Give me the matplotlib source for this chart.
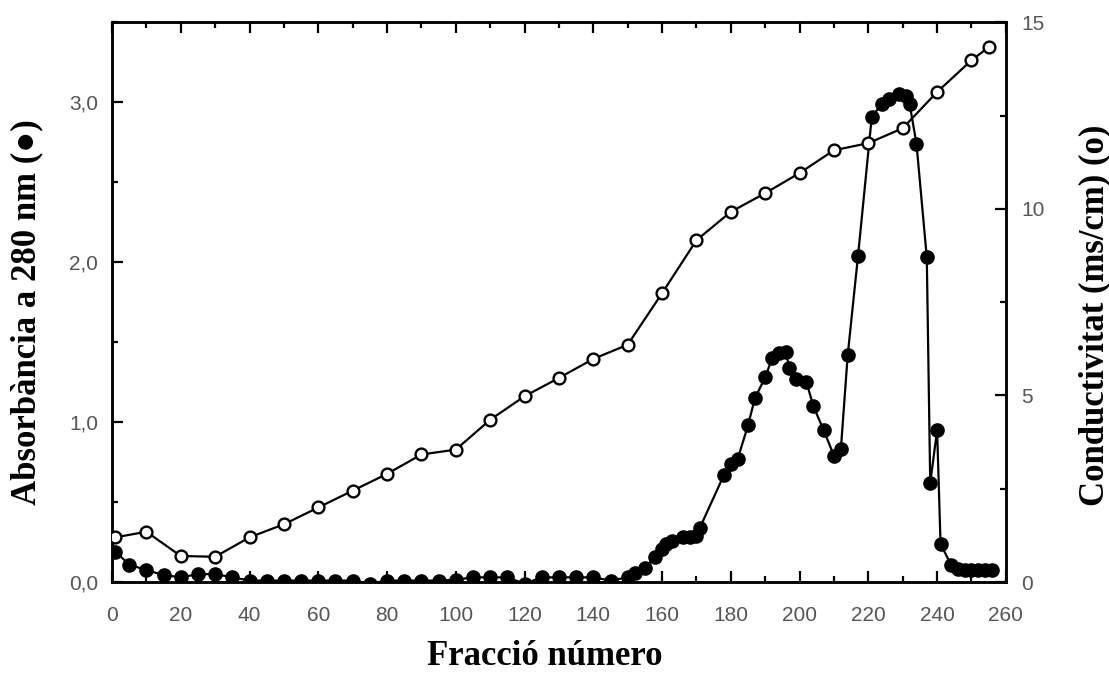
import matplotlib.pyplot as plt
import numpy as np
from matplotlib.ticker import MultipleLocator, FuncFormatter

# Absorbance at 280 nm (filled circles, left axis)
abs_frac = [1, 5, 10, 15, 20, 25, 30, 35, 40, 45, 50, 55, 60, 65, 70, 75, 80,
            85, 90, 95, 100, 105, 110, 115, 120, 125, 130, 135, 140, 145, 150,
            152, 155, 158, 160, 161, 163, 166, 168, 170, 171, 178, 180, 182,
            185, 187, 190, 192, 194, 196, 197, 199, 202, 204, 207, 210, 212,
            214, 217, 221, 224, 226, 229, 231, 232, 234, 237, 238, 240, 241,
            244, 246, 248, 250, 252, 254, 256]
absorb = [0.19, 0.11, 0.075, 0.045, 0.03, 0.05, 0.05, 0.03, 0.01, 0.01, 0.01,
          0.01, 0.01, 0.01, 0.01, -0.01, 0.01, 0.01, 0.01, 0.01, 0.015, 0.03,
          0.03, 0.03, -0.01, 0.03, 0.03, 0.03, 0.03, 0.01, 0.03,
          0.055, 0.09, 0.16, 0.21, 0.24, 0.26, 0.28, 0.28, 0.29, 0.34, 0.67,
          0.74, 0.77, 0.98, 1.15, 1.28, 1.40, 1.43, 1.44, 1.34, 1.27, 1.25,
          1.10, 0.95, 0.79, 0.83, 1.42, 2.04, 2.91, 2.99, 3.02, 3.05, 3.04,
          2.99, 2.74, 2.03, 0.62, 0.95, 0.24, 0.11, 0.08, 0.075, 0.075, 0.075,
          0.075, 0.075]

# Conductivity in ms/cm (open circles, right axis)
cond_frac = [1, 10, 20, 30, 40, 50, 60, 70, 80, 90, 100, 110, 120, 130, 140,
             150, 160, 170, 180, 190, 200, 210, 220, 230, 240, 250, 255]
conduct = [1.2, 1.35, 0.7, 0.68, 1.2, 1.55, 2.0, 2.45, 2.9, 3.42, 3.55, 4.35,
           4.98, 5.47, 5.98, 6.36, 7.74, 9.16, 9.92, 10.42, 10.96, 11.57,
           11.76, 12.16, 13.13, 13.98, 14.33]

tick_font = ['Liberation Sans', 'DejaVu Sans']
label_font = ['Liberation Serif', 'DejaVu Serif']
tick_color = '#555555'

fig = plt.figure(figsize=(11.09, 6.73), dpi=100)
ax = fig.add_axes([0.101, 0.135, 0.806, 0.832])
ax2 = ax.twinx()

ax.plot(abs_frac, absorb, '-o', color='black', lw=1.6, ms=9.5,
        mfc='black', mec='black', zorder=3)
ax2.plot(cond_frac, conduct, '-o', color='black', lw=1.6, ms=8.5,
         mfc='white', mec='black', mew=1.7, zorder=3)

ax.set_xlim(0, 260)
ax.set_ylim(0, 3.5)
ax2.set_ylim(0, 15)

ax.xaxis.set_major_locator(MultipleLocator(20))
ax.xaxis.set_minor_locator(MultipleLocator(10))
ax.yaxis.set_major_locator(MultipleLocator(1.0))
ax.yaxis.set_minor_locator(MultipleLocator(0.5))
ax2.yaxis.set_major_locator(MultipleLocator(5))
ax2.yaxis.set_minor_locator(MultipleLocator(2.5))

ax.yaxis.set_major_formatter(FuncFormatter(lambda v, p: f'{v:.1f}'.replace('.', ',')))

ax.tick_params(axis='x', which='both', direction='in', top=True, width=1.6)
ax.tick_params(axis='x', which='major', length=8, pad=17)
ax.tick_params(axis='x', which='minor', length=4.5)
ax.tick_params(axis='y', which='both', direction='in', right=False, width=1.6)
ax.tick_params(axis='y', which='major', length=8, pad=10)
ax.tick_params(axis='y', which='minor', length=4.5)
ax2.tick_params(axis='y', which='both', direction='in', width=1.6)
ax2.tick_params(axis='y', which='major', length=8, pad=11)
ax2.tick_params(axis='y', which='minor', length=4.5)

for a in (ax, ax2):
    for s in a.spines.values():
        s.set_linewidth(1.8)
    for lab in a.get_xticklabels() + a.get_yticklabels():
        lab.set_family(tick_font)
        lab.set_fontsize(15)
        lab.set_color(tick_color)

fig.text(0.491, 0.024, 'Fracció número', ha='center', va='center',
         family=label_font, fontweight='bold', fontsize=25)
fig.text(0.024, 0.536, 'Absorbància a 280 nm (●)', ha='center', va='center',
         rotation=90, family=label_font + ['DejaVu Sans'], fontweight='bold',
         fontsize=25)
fig.text(0.987, 0.532, 'Conductivitat (ms/cm) (o)', ha='center', va='center',
         rotation=90, family=label_font, fontweight='bold', fontsize=25)

fig.savefig('out.png', dpi=100)
